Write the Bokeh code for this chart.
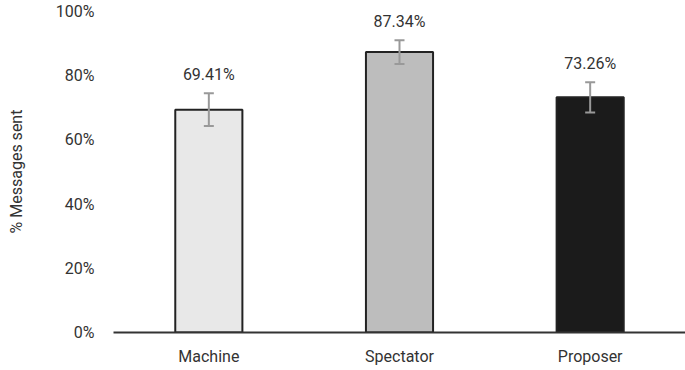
from bokeh.plotting import figure
from bokeh.models import ColumnDataSource, Range1d, Whisker, FixedTicker, NumeralTickFormatter
from bokeh.core.properties import value
from bokeh.embed import file_html
from bokeh.resources import INLINE

categories = ["Machine", "Spectator", "Proposer"]
values = [69.41, 87.34, 73.26]
errors = [5.1, 3.7, 4.7]
colors = ["#e8e8e8", "#bdbdbd", "#1b1b1b"]
y_ticks = [0, 20, 40, 60, 80, 100]

xs = [i + 0.5 for i in range(len(categories))]
src = ColumnDataSource(dict(
    x=xs, top=values, color=colors,
    upper=[v + e for v, e in zip(values, errors)],
    lower=[v - e for v, e in zip(values, errors)],
    label=[f"{v:.2f}%" for v in values],
))

FONT = "Roboto"
p = figure(width=685, height=370, output_backend="svg", toolbar_location=None,
           x_range=Range1d(0, 3.0), y_range=Range1d(0, 100.3),
           min_border_left=113, min_border_right=0, min_border_top=10, min_border_bottom=38)
p.outline_line_color = None
p.grid.grid_line_color = None

p.vbar(x="x", top="top", width=0.352, bottom=0, source=src, fill_color="color",
       line_color="#222222", line_width=2)

w = Whisker(base="x", upper="upper", lower="lower", source=src,
            line_color="#999999", line_width=2, level="overlay")
w.upper_head.size = 10
w.lower_head.size = 10
w.upper_head.line_color = "#999999"
w.lower_head.line_color = "#999999"
w.upper_head.line_width = 2
w.lower_head.line_width = 2
p.add_layout(w)

p.text(x="x", y="upper", text="label", source=src, text_align="center",
       text_baseline="alphabetic", y_offset=-19, text_font=value(FONT),
       text_font_size="16px", text_color="#333333", text_font_style="normal")

p.xaxis.ticker = FixedTicker(ticks=xs)
p.xaxis.major_label_overrides = {x: c for x, c in zip(xs, categories)}
p.xaxis.major_tick_line_color = None
p.xaxis.minor_tick_line_color = None
p.xaxis.major_tick_out = 0
p.xaxis.axis_line_color = "#333333"
p.xaxis.axis_line_width = 2
p.xaxis.major_label_standoff = 14
p.xaxis.major_label_text_font = FONT
p.xaxis.major_label_text_font_size = "16px"
p.xaxis.major_label_text_color = "#333333"
p.xaxis.axis_label = None
p.xaxis.axis_label_standoff = 0

p.yaxis.ticker = FixedTicker(ticks=y_ticks)
p.yaxis.formatter = NumeralTickFormatter(format="0")
p.yaxis.major_label_overrides = {t: f"{t}%" for t in y_ticks}
p.yaxis.axis_line_color = None
p.yaxis.major_tick_line_color = None
p.yaxis.minor_tick_line_color = None
p.yaxis.major_tick_out = 0
p.yaxis.major_label_standoff = 19
p.yaxis.major_label_text_font = FONT
p.yaxis.major_label_text_font_size = "16px"
p.yaxis.major_label_text_color = "#333333"
p.yaxis.axis_label = "% Messages sent"
p.yaxis.axis_label_text_font = FONT
p.yaxis.axis_label_text_font_size = "16px"
p.yaxis.axis_label_text_font_style = "normal"
p.yaxis.axis_label_text_color = "#333333"
p.yaxis.axis_label_standoff = 27

open("out.html", "w").write(file_html(p, INLINE))
